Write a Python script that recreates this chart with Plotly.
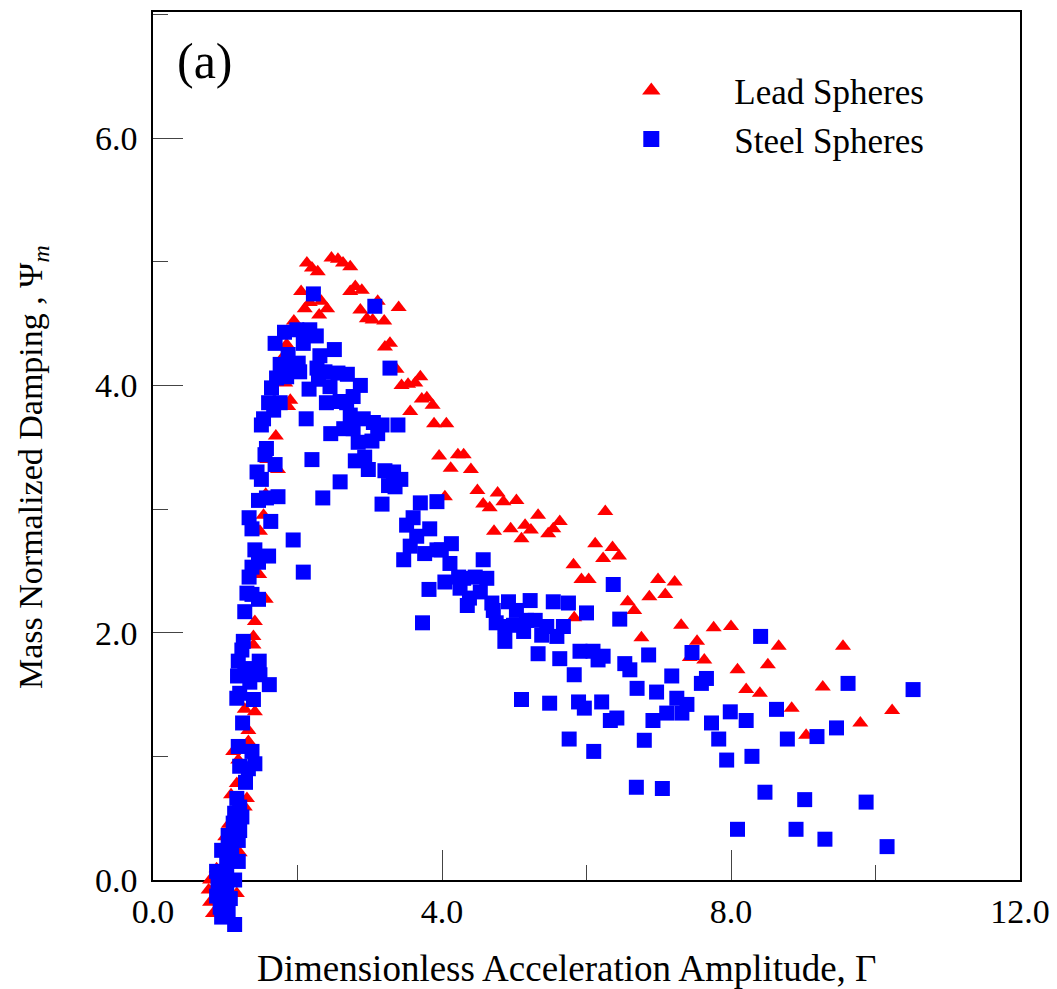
import plotly.graph_objects as go

# ---------------- data ----------------
lead_x = [2.13, 2.20, 2.28, 2.47, 2.56, 2.63, 2.73, 2.05, 2.80, 2.89, 2.73,
          2.17, 2.10, 2.33, 2.41, 2.30, 2.87, 2.96, 3.04, 3.11, 3.20, 3.40,
          3.21, 3.28, 3.37, 3.44, 3.53, 3.63, 3.70, 3.72, 3.79, 3.87, 3.56,
          3.89, 4.06, 3.96, 4.22, 4.30, 4.12, 4.40, 4.04, 4.49, 4.77, 4.57,
          4.66, 4.85, 5.03, 5.33, 4.72, 4.95, 5.15, 5.23, 5.10, 5.47, 5.54,
          5.63, 6.26, 6.12, 6.36, 6.23, 6.45, 5.82, 5.93, 6.03, 6.99, 7.22,
          6.87, 7.09, 6.57, 6.66, 5.83, 6.76, 7.31, 7.76, 8.00, 7.53, 7.43,
          7.63, 8.09, 8.66, 8.51, 8.21, 8.40, 9.27, 9.55, 8.84, 9.79, 9.04,
          10.23,
          1.85, 1.80, 1.83, 1.90, 1.87, 1.70, 1.73, 1.58, 1.53, 1.48, 1.56,
          1.95,
          1.47, 1.56, 1.41, 1.39, 1.39, 1.44, 1.32, 1.27, 1.41, 1.32, 1.32,
          1.11, 1.18, 1.16, 1.30, 1.27, 1.08, 1.20, 0.88, 0.79, 0.77, 0.79,
          0.83, 1.16, 0.86, 1.00, 1.05]
lead_y = [4.99, 4.95, 4.92, 5.03, 5.02, 4.99, 4.96, 4.76, 4.80, 4.77, 4.76,
          4.67, 4.62, 4.68, 4.62, 4.57, 4.61, 4.54, 4.53, 4.68, 4.52, 4.63,
          4.31, 4.34, 4.13, 4.00, 4.01, 4.02, 4.07, 3.89, 3.90, 3.84, 3.79,
          3.69, 3.69, 3.43, 3.44, 3.44, 3.33, 3.32, 3.10, 3.15, 3.13, 3.04,
          3.01, 3.06, 3.07, 2.95, 2.82, 2.84, 2.87, 2.83, 2.76, 2.80, 2.84,
          2.90, 2.98, 2.72, 2.69, 2.60, 2.62, 2.55, 2.43, 2.43, 2.43, 2.41,
          2.29, 2.31, 2.25, 2.18, 2.12, 1.96, 2.06, 2.04, 2.05, 1.93, 1.80,
          1.78, 1.70, 1.89, 1.74, 1.54, 1.51, 1.56, 1.89, 1.39, 1.27, 1.17,
          1.37,
          4.33, 4.23, 4.02, 3.88, 3.83, 3.59, 3.32, 3.40, 2.95, 2.82, 3.12,
          4.52,
          2.47, 2.27, 2.09, 1.97, 1.90, 1.75, 1.69, 1.38, 1.36, 1.21, 1.12,
          1.04, 0.97, 0.78, 0.66, 0.59, 0.69, 0.22, 0.09, 0.00, -0.08, -0.18,
          -0.27, -0.11, -0.05, 0.35, 0.45]

steel_x = [2.22, 3.07, 1.82, 1.99, 2.17, 2.26, 1.69, 2.08, 2.51, 2.31, 1.87,
           1.76, 1.90, 2.01, 2.03, 2.27, 2.38, 2.56, 2.69, 3.28, 1.71, 1.85,
           2.29, 2.45, 1.64, 2.87, 2.16, 2.77, 2.40, 2.59, 2.68, 1.60, 1.76,
           1.67, 2.73, 2.12, 1.53, 1.50, 2.91, 3.05, 3.17, 3.39, 2.64, 2.77,
           2.46, 3.11, 2.84, 3.03, 1.57, 1.55, 2.93, 2.80, 2.20, 1.69, 2.98,
           3.21, 3.33, 3.43, 3.26, 3.35, 1.44, 1.50, 2.59, 2.35, 3.17, 1.46,
           1.57, 1.73, 3.70, 3.93, 1.33, 1.63, 1.37, 3.51, 3.60, 3.83, 3.65,
           1.94, 1.41, 3.56, 3.76, 1.60, 3.47, 3.93, 2.08,
           4.13, 3.99, 4.11, 4.57, 3.82, 4.04, 4.23, 4.30, 4.46, 4.62, 4.25,
           4.53, 4.38, 4.35, 4.69, 4.92, 5.22, 5.54, 5.75, 4.71, 5.03, 6.00,
           6.37, 4.75, 4.87, 4.99, 5.17, 5.29, 5.45, 5.68, 6.46, 5.13, 5.38,
           5.59, 3.73, 4.87, 5.33, 5.63, 5.91, 6.09, 6.23, 6.16, 6.53, 6.60,
           6.86, 7.46, 5.83, 7.18, 6.70, 6.97, 7.25, 7.39, 7.59, 7.66, 5.10,
           5.49, 5.89, 5.97, 6.21, 6.33, 6.42, 6.92, 7.11, 7.32, 7.73, 7.99,
           8.41, 8.21, 8.63, 9.62, 10.52, 7.83, 8.78, 9.19, 9.46, 7.94, 8.29,
           7.05, 6.69, 8.47, 9.02, 9.87, 8.09, 8.90, 9.30, 10.16, 5.76, 6.10,
           6.80,
           1.46, 1.37, 1.33, 1.30, 1.37, 1.46, 1.27, 1.25, 1.23, 1.47, 1.18,
           1.27, 1.17, 1.32, 1.48, 1.61, 1.34, 1.20, 1.16, 1.39, 1.24, 1.18,
           1.37, 1.41, 1.20, 1.32, 1.28, 1.16, 1.20, 1.13, 1.23, 1.11, 1.20,
           1.04, 1.18, 0.95, 1.09, 1.18, 1.02, 0.88, 1.02, 1.13, 0.90, 1.02,
           0.88, 1.07, 0.93, 1.04, 0.95, 1.13]
steel_y = [4.74, 4.64, 4.43, 4.45, 4.45, 4.40, 4.34, 4.34, 4.29, 4.24, 4.25,
           4.17, 4.17, 4.18, 4.11, 4.14, 4.11, 4.10, 4.09, 4.14, 4.06, 4.07,
           4.05, 3.99, 3.98, 4.00, 3.97, 3.91, 3.86, 3.87, 3.86, 3.86, 3.86,
           3.80, 3.76, 3.73, 3.73, 3.68, 3.73, 3.70, 3.68, 3.68, 3.65, 3.65,
           3.61, 3.61, 3.54, 3.55, 3.49, 3.44, 3.42, 3.39, 3.40, 3.36, 3.32,
           3.31, 3.30, 3.24, 3.19, 3.18, 3.30, 3.24, 3.22, 3.09, 3.04, 3.07,
           3.09, 3.10, 3.05, 3.06, 2.93, 2.90, 2.84, 2.87, 2.93, 2.84, 2.78,
           2.75, 2.67, 2.70, 2.64, 2.62, 2.59, 2.67, 2.49,
           2.72, 2.67, 2.56, 2.59, 2.35, 2.41, 2.45, 2.44, 2.45, 2.44, 2.36,
           2.33, 2.28, 2.22, 2.24, 2.25, 2.26, 2.25, 2.24, 2.18, 2.18, 2.16,
           2.39, 2.08, 2.05, 2.06, 2.10, 2.10, 2.05, 2.05, 2.11, 2.01, 1.98,
           1.97, 2.08, 1.93, 1.83, 1.79, 1.85, 1.85, 1.81, 1.78, 1.75, 1.70,
           1.82, 1.84, 1.66, 1.65, 1.55, 1.52, 1.47, 1.42, 1.59, 1.63, 1.46,
           1.43, 1.44, 1.39, 1.44, 1.29, 1.31, 1.29, 1.35, 1.35, 1.27, 1.36,
           1.97, 1.29, 1.38, 1.59, 1.54, 1.14, 1.14, 1.16, 1.23, 0.97, 1.00,
           0.74, 0.75, 0.71, 0.65, 0.63, 0.41, 0.41, 0.33, 0.27, 1.14, 1.04,
           1.13,
           2.57, 2.53, 2.45, 2.32, 2.31, 2.27, 2.17, 1.93, 1.86, 1.77, 1.77,
           1.71, 1.65, 1.66, 1.66, 1.58, 1.60, 1.51, 1.47, 1.46, 1.27, 1.08,
           1.04, 0.94, 0.92, 0.90, 0.79, 0.66, 0.59, 0.54, 0.51, 0.46, 0.40,
           0.36, 0.32, 0.24, 0.24, 0.15, 0.15, 0.07, 0.04, 0.00, -0.04, -0.07,
           -0.13, -0.15, -0.22, -0.24, -0.30, -0.36]

series_names = ["Lead Spheres", "Steel Spheres"]
x_ticks = [0, 4, 8, 12]
x_tick_labels = ["0.0", "4.0", "8.0", "12.0"]
y_ticks = [0, 2, 4, 6]
y_tick_labels = ["0.0", "2.0", "4.0", "6.0"]

FONT = "Liberation Serif, Times New Roman, serif"
RED = "#FF0000"
BLUE = "#0000FF"

# ---------------- geometry ----------------
W, H = 1057, 989
ML, MR, MT, MB = 153, 37, 12, 49          # paper area (data layer can spill below y=0)
AXIS_BOTTOM_PX = 880                       # pixel row of y = 0 (frame bottom)
paper_h = H - MT - MB
y_top = 7.02
frame_lo = (H - MB - AXIS_BOTTOM_PX) / paper_h   # domain fraction of frame bottom
px_per_unit = (AXIS_BOTTOM_PX - MT) / y_top
y2_lo = -(H - MB - AXIS_BOTTOM_PX) / px_per_unit

fig = go.Figure()
# data traces (on a hidden y axis whose area extends below the frame so that
# markers below zero are not clipped)
fig.add_trace(go.Scatter(
    x=lead_x, y=lead_y, mode="markers", name=series_names[0],
    xaxis="x", yaxis="y2", showlegend=False,
    marker=dict(symbol="triangle-up", size=14, color=RED, line=dict(width=0))))
fig.add_trace(go.Scatter(
    x=steel_x, y=steel_y, mode="markers", name=series_names[1],
    xaxis="x", yaxis="y2", showlegend=False,
    marker=dict(symbol="square", size=15, color=BLUE, line=dict(width=0))))
# legend entries
fig.add_trace(go.Scatter(
    x=[None], y=[None], mode="markers", name=series_names[0],
    marker=dict(symbol="triangle-up", size=16, color=RED, line=dict(width=0))))
fig.add_trace(go.Scatter(
    x=[None], y=[None], mode="markers", name=series_names[1],
    marker=dict(symbol="square", size=16, color=BLUE, line=dict(width=0))))

axis_common = dict(
    showline=True, linecolor="black", linewidth=1.5, mirror=True,
    showgrid=False, zeroline=False,
    ticks="inside", ticklen=30, tickwidth=1.2, tickcolor="#444",
    tickfont=dict(family=FONT, size=34, color="black"),
)

fig.update_layout(
    xaxis=dict(range=[0, 12], tickvals=x_ticks, ticktext=x_tick_labels,
               anchor="y", domain=[0, 1],
               minor=dict(dtick=2, tick0=0, ticks="inside", ticklen=15,
                          tickwidth=1.2, tickcolor="#444"),
               **axis_common),
    yaxis=dict(range=[0, y_top], tickvals=y_ticks, ticktext=y_tick_labels,
               anchor="x", domain=[frame_lo, 1], ticklabelstandoff=7,
               minor=dict(dtick=1, tick0=0, ticks="inside", ticklen=15,
                          tickwidth=1.2, tickcolor="#444"),
               **axis_common),
    yaxis2=dict(range=[y2_lo, y_top], domain=[0, 1], anchor="x",
                visible=False, showgrid=False, zeroline=False),
)

fig.add_annotation(text="(a)", xref="x domain", yref="y domain",
                   x=0.0254, y=0.943, xanchor="left", yanchor="middle",
                   showarrow=False, font=dict(family=FONT, size=50, color="black"))
fig.add_annotation(text="Dimensionless Acceleration Amplitude, Γ",
                   xref="x domain", yref="y domain", x=0.4775, y=-0.1014,
                   xanchor="center", yanchor="middle", showarrow=False,
                   font=dict(family=FONT, size=37, color="black"))
fig.add_annotation(text="Mass Normalized Damping , Ψ<sub><i>m</i></sub>",
                   xref="x domain", yref="y domain", x=-0.1384, y=0.4758,
                   xanchor="center", yanchor="middle", textangle=-90,
                   showarrow=False, font=dict(family=FONT, size=34, color="black"))

fig.update_layout(
    width=W, height=H,
    margin=dict(l=ML, r=MR, t=MT, b=MB, autoexpand=False),
    paper_bgcolor="white", plot_bgcolor="rgba(0,0,0,0)",
    showlegend=True,
    legend=dict(x=0.479, y=0.947, xanchor="left", yanchor="top",
                bgcolor="rgba(0,0,0,0)", borderwidth=0,
                itemwidth=156, itemsizing="trace", tracegroupgap=0,
                font=dict(family=FONT, size=35, color="black")),
)

fig.write_html("out.html")
